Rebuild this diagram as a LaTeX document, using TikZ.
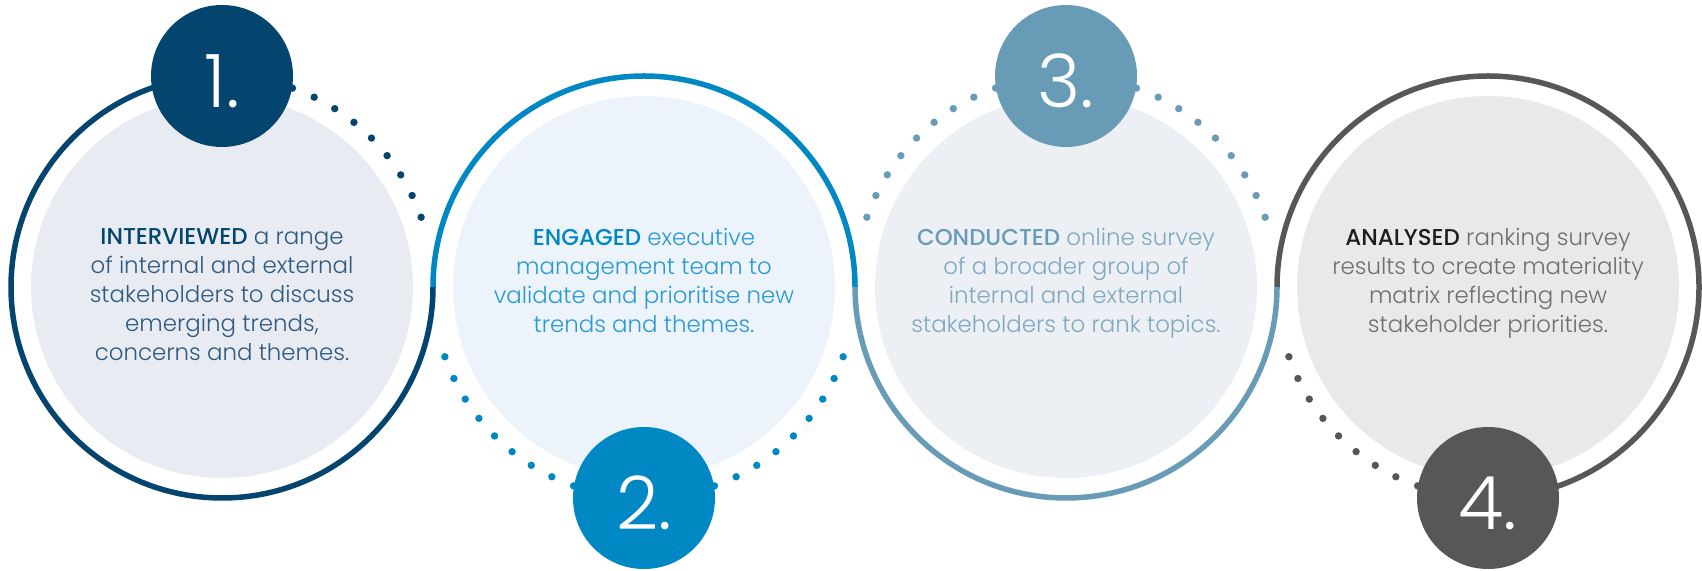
\documentclass[tikz,border=0pt]{standalone}
\usepackage{fontspec}
\setmainfont{Poppins}[UprightFont=* Light, BoldFont=* Medium]
\usetikzlibrary{positioning}
\definecolor{navy}{HTML}{03456F}
\definecolor{navytext}{HTML}{2F5A80}
\definecolor{navyfill}{HTML}{E8EBF2}
\definecolor{sky}{HTML}{0088C5}
\definecolor{skytext}{HTML}{2A9AD2}
\definecolor{skyfill}{HTML}{ECF3FB}
\definecolor{steel}{HTML}{689CB6}
\definecolor{steeltext}{HTML}{7FA9BF}
\definecolor{steelfill}{HTML}{ECEFF4}
\definecolor{slate}{HTML}{575756}
\definecolor{slatetext}{HTML}{6F6F6E}
\definecolor{slatefill}{HTML}{E9E9E9}
\definecolor{ink}{HTML}{1D1D1B}

\begin{document}
\begin{tikzpicture}[x=1bp,y=1bp,
    disc/.style={circle, minimum size=382bp, outer sep=0pt},
    badge/.style={circle, minimum size=142bp, outer sep=0pt},
    num/.style={text=white, font=\fontsize{74}{74}\selectfont},
    blurb/.style={anchor=north, align=center, font=\fontsize{23}{29.3}\selectfont},
    ring/.style={line width=5.5bp}]
    \tikzstyle{every node}+=[inner sep=0pt]
    \useasboundingbox (0,0) rectangle (1702,571);

    % light discs
    \node[disc, fill=navyfill] (disc1) at (222,284) {};
    \node[disc, fill=skyfill, right=40bp of disc1] (disc2) {};
    \node[disc, fill=steelfill, right=40bp of disc2] (disc3) {};
    \node[disc, fill=slatefill, right=40bp of disc3] (disc4) {};

    % the winding line
    \draw[ring, navy] (disc1.center) ++(90:211) arc[start angle=90, end angle=360, radius=211];
    \draw[ring, sky] (disc2.center) ++(180:211) arc[start angle=180, end angle=0, radius=211];
    \draw[ring, steel] (disc3.center) ++(180:211) arc[start angle=180, end angle=360, radius=211];
    \draw[ring, slate] (disc4.center) ++(180:211) arc[start angle=180, end angle=-90, radius=211];

    % dotted parts
    \foreach \a in {19.3,25.7,...,70.5}
        \fill[navy] (disc1.center) ++(\a:211) circle (3.7);
    \foreach \a in {199.3,205.7,...,250.5,289.5,295.9,...,340.7}
        \fill[sky] (disc2.center) ++(\a:211) circle (3.7);
    \foreach \a in {19.3,25.7,...,70.5,109.5,115.9,...,160.7}
        \fill[steel] (disc3.center) ++(\a:211) circle (3.7);
    \foreach \a in {199.3,205.7,...,250.5}
        \fill[slate] (disc4.center) ++(\a:211) circle (3.7);

    % numbered badges
    \node[badge, fill=navy] (b1) at ([yshift=211bp]disc1.center) {};
    \node[badge, fill=sky] (b2) at ([yshift=-211bp]disc2.center) {};
    \node[badge, fill=steel] (b3) at ([yshift=211bp]disc3.center) {};
    \node[badge, fill=slate] (b4) at ([yshift=-211bp]disc4.center) {};
    \node[num] (n1) at ([yshift=-5bp]b1.center) {1.};
    \node[num] (n2) at ([yshift=-5bp]b2.center) {2.};
    \node[num] (n3) at ([yshift=-5bp]b3.center) {3.};
    \node[num] (n4) at ([yshift=-5bp]b4.center) {4.};

    % texts
    \node[blurb, text=navytext] (t1) at ([yshift=59bp]disc1.center)
        {\textcolor{navy}{\textbf{INTERVIEWED}} a range\\of internal and external\\stakeholders to discuss\\emerging trends,\\concerns and themes.};
    \node[blurb, text=skytext] (t2) at ([yshift=59bp]disc2.center)
        {\textcolor{sky}{\textbf{ENGAGED}} executive\\management team to\\validate and prioritise new\\trends and themes.};
    \node[blurb, text=steeltext] (t3) at ([yshift=59bp]disc3.center)
        {\textcolor{steel}{\textbf{CONDUCTED}} online survey\\of a broader group of\\internal and external\\stakeholders to rank topics.};
    \node[blurb, text=slatetext] (t4) at ([yshift=59bp]disc4.center)
        {\textcolor{ink}{\textbf{ANALYSED}} ranking survey\\results to create materiality\\matrix reflecting new\\stakeholder priorities.};
\end{tikzpicture}
\end{document}
